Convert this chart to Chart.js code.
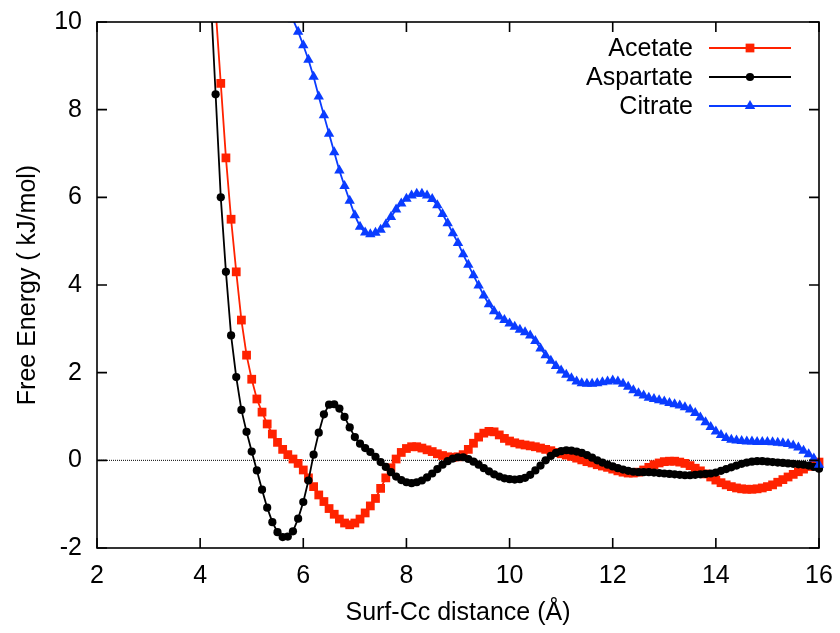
<!DOCTYPE html>
<html>
<head>
<meta charset="utf-8">
<script src="https://cdn.jsdelivr.net/npm/chart.js@4.4.1/dist/chart.umd.min.js"></script>
<style>
  html, body { margin: 0; padding: 0; background: #fff; }
  #chart { display: block; }
</style>
</head>
<body>
<canvas id="chart" width="840" height="633"></canvas>
<script>
// distance grid (Å), shared by all three curves
const distance = [
  4.2, 4.3, 4.4, 4.5, 4.6, 4.7, 4.8, 4.9,
  5.0, 5.1, 5.2, 5.3, 5.4, 5.5, 5.6, 5.7, 5.8, 5.9,
  6.0, 6.1, 6.2, 6.3, 6.4, 6.5, 6.6, 6.7, 6.8, 6.9,
  7.0, 7.1, 7.2, 7.3, 7.4, 7.5, 7.6, 7.7, 7.8, 7.9,
  8.0, 8.1, 8.2, 8.3, 8.4, 8.5, 8.6, 8.7, 8.8, 8.9,
  9.0, 9.1, 9.2, 9.3, 9.4, 9.5, 9.6, 9.7, 9.8, 9.9,
  10.0, 10.1, 10.2, 10.3, 10.4, 10.5, 10.6, 10.7, 10.8, 10.9,
  11.0, 11.1, 11.2, 11.3, 11.4, 11.5, 11.6, 11.7, 11.8, 11.9,
  12.0, 12.1, 12.2, 12.3, 12.4, 12.5, 12.6, 12.7, 12.8, 12.9,
  13.0, 13.1, 13.2, 13.3, 13.4, 13.5, 13.6, 13.7, 13.8, 13.9,
  14.0, 14.1, 14.2, 14.3, 14.4, 14.5, 14.6, 14.7, 14.8, 14.9,
  15.0, 15.1, 15.2, 15.3, 15.4, 15.5, 15.6, 15.7, 15.8, 15.9,
  16.0
];

const acetate = [
  null, 10.3, 8.6, 6.9, 5.5, 4.3, 3.2, 2.4,
  1.85, 1.4, 1.1, 0.83, 0.6, 0.41, 0.25, 0.13, 0.03, -0.07,
  -0.22, -0.4, -0.6, -0.79, -0.94, -1.1, -1.23, -1.34, -1.43, -1.47,
  -1.43, -1.34, -1.2, -1.04, -0.87, -0.64, -0.4, -0.17, 0.03, 0.18,
  0.27, 0.31, 0.31, 0.28, 0.24, 0.2, 0.15, 0.11, 0.08, 0.07,
  0.08, 0.13, 0.25, 0.39, 0.53, 0.62, 0.66, 0.65, 0.58, 0.5,
  0.44, 0.4, 0.37, 0.35, 0.33, 0.31, 0.28, 0.25, 0.22, 0.18,
  0.15, 0.12, 0.09, 0.05, 0.01, -0.03, -0.06, -0.1, -0.13, -0.16,
  -0.2, -0.24, -0.27, -0.29, -0.29, -0.27, -0.22, -0.16, -0.1, -0.06,
  -0.03, -0.02, -0.02, -0.04, -0.07, -0.12, -0.18, -0.24, -0.31, -0.38,
  -0.45, -0.51, -0.56, -0.6, -0.63, -0.65, -0.66, -0.66, -0.65, -0.63,
  -0.6, -0.56, -0.5, -0.44, -0.38, -0.32, -0.26, -0.2, -0.14, -0.09,
  -0.04
];

const aspartate = [
  10.7, 8.35, 6.0, 4.3, 2.85, 1.9, 1.15, 0.65,
  0.2, -0.23, -0.67, -1.08, -1.41, -1.64, -1.75, -1.74, -1.62, -1.33,
  -0.95, -0.46, 0.13, 0.63, 1.05, 1.27, 1.28, 1.18, 0.99, 0.75,
  0.53, 0.38, 0.28, 0.19, 0.08, -0.04, -0.15, -0.27, -0.37, -0.45,
  -0.5, -0.52, -0.5, -0.46, -0.39, -0.3, -0.2, -0.1, -0.02, 0.04,
  0.07, 0.07, 0.03, -0.03, -0.1, -0.18, -0.25, -0.32, -0.37, -0.41,
  -0.43, -0.44, -0.43, -0.4, -0.33, -0.23, -0.12, 0.0, 0.1, 0.17,
  0.21, 0.23, 0.22, 0.2, 0.17, 0.12, 0.06, 0.0, -0.05, -0.1,
  -0.14, -0.18, -0.21, -0.24, -0.26, -0.27, -0.27, -0.27, -0.28, -0.29,
  -0.3, -0.31, -0.32, -0.33, -0.34, -0.34, -0.33, -0.32, -0.31, -0.3,
  -0.28, -0.24, -0.2, -0.16, -0.12, -0.08, -0.05, -0.03, -0.02, -0.02,
  -0.03, -0.04, -0.05, -0.06, -0.07, -0.08, -0.09, -0.1, -0.12, -0.15,
  -0.19
];

const citrate = [
  null, null, null, null, null, null, null, null,
  null, null, null, null, null, null, null, null, 10.06, 9.78,
  9.47, 9.14, 8.75, 8.3, 7.87, 7.45, 7.03, 6.61, 6.26, 5.92,
  5.59, 5.33, 5.2, 5.16, 5.19, 5.26, 5.38, 5.55, 5.72, 5.86,
  5.97, 6.04, 6.08, 6.08, 6.04, 5.96, 5.82, 5.62, 5.41, 5.18,
  4.96, 4.7, 4.46, 4.22, 3.99, 3.76, 3.56, 3.4, 3.28, 3.2,
  3.12, 3.05, 2.98, 2.92, 2.85, 2.72, 2.55, 2.4, 2.27, 2.15,
  2.05, 1.95, 1.87, 1.8, 1.76, 1.75, 1.75, 1.76, 1.78, 1.8,
  1.82, 1.8, 1.75, 1.68, 1.6, 1.53, 1.48, 1.43, 1.4, 1.37,
  1.34, 1.31, 1.28, 1.25, 1.21, 1.16, 1.08, 0.98, 0.87, 0.76,
  0.66, 0.58, 0.51, 0.47, 0.45, 0.44, 0.43, 0.43, 0.42, 0.42,
  0.42, 0.41, 0.4, 0.39, 0.37, 0.34, 0.29, 0.22, 0.14, 0.04,
  -0.1
];

const seriesNames = ["Acetate", "Aspartate", "Citrate"];
const seriesColors = ["#ff2200", "#000000", "#0a3cff"];
const xTicks = [2, 4, 6, 8, 10, 12, 14, 16];
const yTicks = [-2, 0, 2, 4, 6, 8, 10];

const FONT = "'Liberation Sans', Arial, sans-serif";

function toPoints(values) {
  return distance.map((d, i) => ({ x: d, y: values[i] }));
}

function markPath(ctx, style, x, y, r) {
  ctx.beginPath();
  if (style === "rect") {
    const s = r * Math.SQRT1_2;
    ctx.rect(x - s, y - s, 2 * s, 2 * s);
  } else if (style === "triangle") {
    ctx.moveTo(x, y - r);
    ctx.lineTo(x + r * 0.866, y + r * 0.5);
    ctx.lineTo(x - r * 0.866, y + r * 0.5);
    ctx.closePath();
  } else {
    ctx.arc(x, y, r, 0, Math.PI * 2);
  }
  ctx.fill();
}

// frame with inward ticks on all sides, dotted zero line, gnuplot-like key
const framePlugin = {
  id: "frame",
  beforeDatasetsDraw(chart) {
    const { ctx, chartArea: a, scales } = chart;
    const y0 = scales.y.getPixelForValue(0);
    ctx.save();
    ctx.strokeStyle = "#000";
    ctx.lineWidth = 1;
    ctx.setLineDash([1, 1]);
    ctx.beginPath();
    ctx.moveTo(a.left, y0);
    ctx.lineTo(a.right, y0);
    ctx.stroke();
    ctx.restore();
  },
  afterDatasetsDraw(chart) {
    const { ctx, chartArea: a, scales } = chart;
    const len = 10;
    ctx.save();
    ctx.strokeStyle = "#000";
    ctx.lineWidth = 1.6;
    ctx.beginPath();
    xTicks.forEach((v) => {
      const px = scales.x.getPixelForValue(v);
      ctx.moveTo(px, a.bottom);
      ctx.lineTo(px, a.bottom - len);
      ctx.moveTo(px, a.top);
      ctx.lineTo(px, a.top + len);
    });
    yTicks.forEach((v) => {
      const py = scales.y.getPixelForValue(v);
      ctx.moveTo(a.left, py);
      ctx.lineTo(a.left + len, py);
      ctx.moveTo(a.right, py);
      ctx.lineTo(a.right - len, py);
    });
    ctx.stroke();
    ctx.strokeRect(a.left, a.top, a.right - a.left, a.bottom - a.top);
    ctx.restore();
  },
  afterDraw(chart) {
    const { ctx } = chart;
    const rows = [48, 77, 106];
    ctx.save();
    ctx.font = "25px " + FONT;
    ctx.textAlign = "right";
    ctx.textBaseline = "middle";
    chart.data.datasets.forEach((ds, i) => {
      const y = rows[i];
      ctx.fillStyle = "#000";
      ctx.fillText(ds.label, 693, y + 1);
      ctx.strokeStyle = ds.borderColor;
      ctx.lineWidth = ds.borderWidth;
      ctx.beginPath();
      ctx.moveTo(709, y);
      ctx.lineTo(791, y);
      ctx.stroke();
      ctx.fillStyle = ds.borderColor;
      markPath(ctx, ds.pointStyle, 750, y, ds.pointRadius);
    });
    ctx.restore();
  }
};

Chart.defaults.font.family = FONT;
Chart.defaults.font.size = 25;
Chart.defaults.color = "#000";

const pointStyles = ["rect", "circle", "triangle"];
const pointSizes = [6.2, 4.1, 6.0];
const drawOrder = [3, 2, 1];

function noLabelPadding(s) {
  s.paddingLeft = 0;
  s.paddingRight = 0;
  s.paddingTop = 0;
  s.paddingBottom = 0;
}

new Chart(document.getElementById("chart"), {
  type: "line",
  data: {
    datasets: [acetate, aspartate, citrate].map((vals, i) => ({
      label: seriesNames[i],
      data: toPoints(vals),
      borderColor: seriesColors[i],
      backgroundColor: seriesColors[i],
      pointBackgroundColor: seriesColors[i],
      pointBorderWidth: 0,
      borderWidth: 1.8,
      pointStyle: pointStyles[i],
      pointRadius: pointSizes[i],
      tension: 0,
      order: drawOrder[i],
      clip: { left: 6, right: 6, top: 0, bottom: 6 }
    }))
  },
  options: {
    responsive: false,
    animation: false,
    events: [],
    layout: { padding: { top: 22, right: 21, left: 0, bottom: 0 } },
    plugins: { legend: { display: false }, tooltip: { enabled: false } },
    scales: {
      x: {
        type: "linear",
        min: 2,
        max: 16,
        afterFit: (s) => { s.height = 85; noLabelPadding(s); },
        afterBuildTicks: (s) => { s.ticks = xTicks.map((v) => ({ value: v })); },
        grid: { display: false, drawTicks: false },
        border: { display: false },
        ticks: { padding: 13, maxRotation: 0, font: { size: 25 } },
        title: { display: true, text: "Surf-Cc distance (Å)", font: { size: 25 }, padding: { top: 0, bottom: 5 } }
      },
      y: {
        type: "linear",
        min: -2,
        max: 10,
        afterFit: (s) => { s.width = 97; noLabelPadding(s); },
        afterBuildTicks: (s) => { s.ticks = yTicks.map((v) => ({ value: v })); },
        grid: { display: false, drawTicks: false },
        border: { display: false },
        ticks: { padding: 15, font: { size: 25 } },
        title: { display: true, text: "Free Energy ( kJ/mol)", font: { size: 25 }, padding: { top: 13, bottom: 0 } }
      }
    }
  },
  plugins: [framePlugin]
});
</script>
</body>
</html>
